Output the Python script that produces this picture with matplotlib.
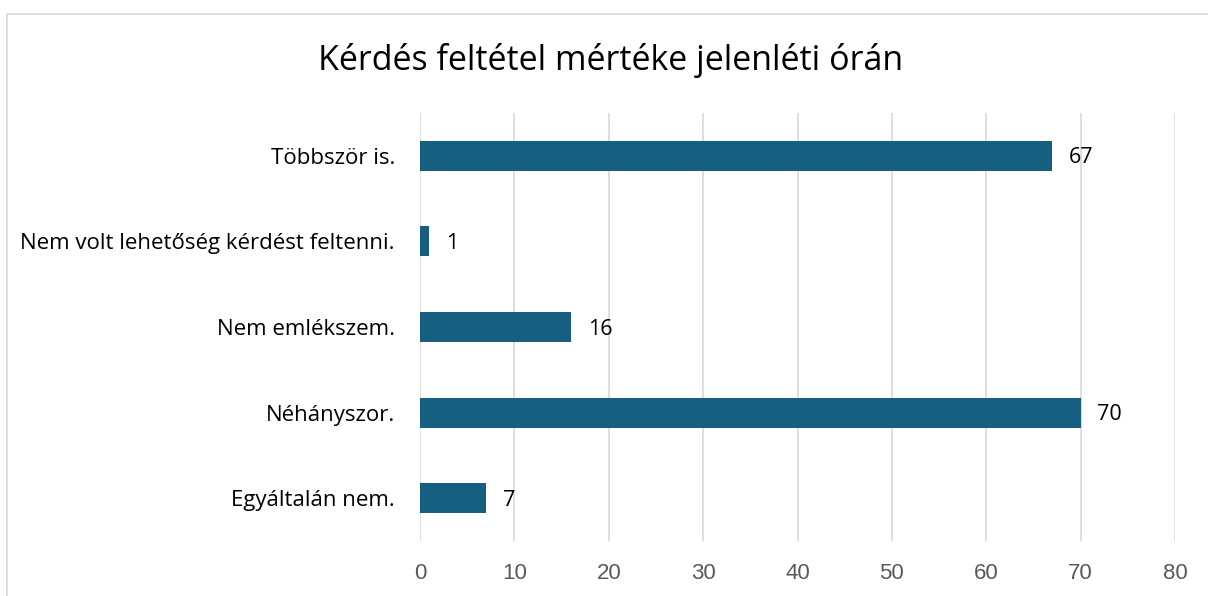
import matplotlib
matplotlib.use('Agg')
import matplotlib.pyplot as plt
from matplotlib.patches import Rectangle

# data (bottom to top)
categories = ['Egyáltalán nem.', 'Néhányszor.', 'Nem emlékszem.',
              'Nem volt lehetőség kérdést feltenni.', 'Többször is.']
values = [7, 70, 16, 1, 67]
x_ticks = [0, 10, 20, 30, 40, 50, 60, 70, 80]
title = 'Kérdés feltétel mértéke jelenléti órán'

bar_color = '#175f80'
grid_color = '#d9d9d9'

plt.rcParams['font.family'] = ['Open Sans', 'DejaVu Sans']

fig = plt.figure(figsize=(12.08, 5.96), dpi=100)
fig.patch.set_facecolor('white')

# chart frame (cut off on the right and bottom)
fig.patches.append(Rectangle((7 / 1208, -0.05), 1.2, 1 - 14 / 596 + 0.05,
                             transform=fig.transFigure, fill=False,
                             edgecolor=grid_color, linewidth=1.2))

ax = fig.add_axes([420 / 1208, 1 - 541 / 596, (1175 - 420) / 1208, (541 - 113) / 596])
ypos = range(len(categories))
ax.barh(ypos, values, height=0.35, color=bar_color, zorder=3)
ax.set_ylim(-0.5, len(categories) - 0.5)
ax.set_xlim(0, 80)
ax.set_xticks(x_ticks)
ax.set_yticks(list(ypos))
ax.set_yticklabels(categories)

for y, v in zip(ypos, values):
    ax.annotate(str(v), (v, y), xytext=(12, -1.5), textcoords='offset points',
                va='center', ha='left', fontsize=15.5, color='#000000')

ax.grid(True, axis='x', color=grid_color, linewidth=1.2, zorder=0)
for s in ax.spines.values():
    s.set_visible(False)
ax.tick_params(axis='x', length=0, pad=16, labelsize=16, labelcolor='#595959')
ax.tick_params(axis='y', length=0, pad=18, labelsize=16, labelcolor='#000000')
for lbl in ax.get_xticklabels():
    lbl.set_family(['Liberation Sans Narrow', 'Liberation Sans', 'DejaVu Sans'])

fig.text(611 / 1208, 1 - 61 / 596, title, ha='center', va='center',
         fontsize=24.5, color='#000000')

fig.savefig('out.png', dpi=100)
